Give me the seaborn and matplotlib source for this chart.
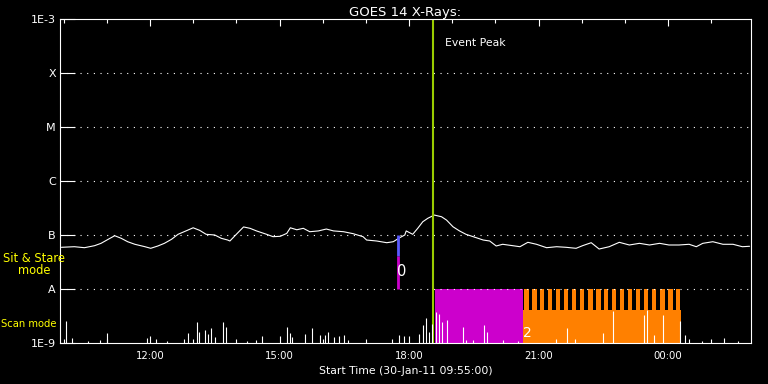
import pandas as pd
import matplotlib
matplotlib.use("Agg")
import matplotlib.pyplot as plt
import matplotlib.dates as mdates
import seaborn as sns

# GOES 14 flux (units of 1e-8 W/m^2)
flux_times = ["09:57", "10:15", "10:29", "10:43", "10:52", "11:02", "11:11", "11:20", "11:29", "11:39",
              "11:53", "12:01", "12:11", "12:20", "12:30", "12:39", "12:50", "13:00", "13:09", "13:18",
              "13:30", "13:39", "13:48", "13:51", "14:00", "14:10", "14:19", "14:28", "14:42", "14:51",
              "15:01", "15:10", "15:15", "15:24", "15:33", "15:42", "15:54", "16:05", "16:15", "16:29",
              "16:42", "16:56", "17:01", "17:15", "17:29", "17:38", "17:47", "17:54", "17:56", "18:05",
              "18:12", "18:19", "18:26", "18:35", "18:45", "18:52", "19:01", "19:10", "19:19", "19:29",
              "19:43", "19:52", "20:01", "20:10", "20:24", "20:34", "20:45", "20:57", "21:11", "21:25",
              "21:38", "21:52", "22:01", "22:13", "22:24", "22:38", "22:52", "23:06", "23:20", "23:34",
              "23:48", "00:01", "00:15", "00:29", "00:39", "00:48", "01:02", "01:16", "01:30", "01:43",
              "01:53"]
flux_vals = [5.92, 6.07, 5.82, 6.34, 7.01, 8.33, 9.7, 8.69, 7.51, 6.73,
             6.07, 5.67, 6.26, 7.01, 8.33, 10.3, 11.9, 13.6, 12.2, 10.3,
             10.0, 8.69, 8.07, 7.74, 10.3, 14.1, 13.3, 11.9, 10.3, 9.31,
             9.46, 10.7, 13.6, 12.5, 13.3, 11.5, 11.9, 12.9, 11.9, 11.5,
             10.6, 9.31, 8.07, 7.74, 7.20, 7.51, 8.92, 10.0, 11.9, 10.3,
             13.3, 17.6, 20.4, 23.4, 21.8, 18.9, 14.2, 11.9, 10.3, 9.31,
             8.07, 7.74, 6.26, 6.73, 6.34, 6.07, 7.32, 6.73, 5.82, 6.07,
             5.92, 5.67, 6.34, 7.20, 5.50, 6.07, 7.32, 6.53, 7.01, 6.53,
             7.01, 6.53, 6.53, 6.73, 6.07, 7.01, 7.51, 6.73, 6.73, 6.07,
             6.18]

# scan mode activity (fraction of the 1E-9..A band)
spike_times = ["10:03", "10:11", "10:34", "10:51", "11:00", "11:56", "12:09", "12:24", "12:47", "12:53",
               "13:05", "13:08", "13:16", "13:21", "13:25", "13:30", "13:41", "13:46", "14:15", "14:27",
               "14:35", "15:10", "15:15", "15:18", "15:36", "15:45", "15:56", "16:03", "16:07", "16:15",
               "16:23", "16:29", "16:35", "17:36", "17:46", "17:53", "18:14", "18:19", "18:23", "18:28",
               "18:32", "18:38", "18:42", "18:46", "18:53", "19:15", "19:19", "19:29", "19:44", "19:48",
               "20:10", "20:31", "21:24", "21:39", "21:50", "22:29", "22:43", "23:26", "23:31", "23:40",
               "23:53", "00:16", "00:24", "00:29", "00:47", "01:18", "01:37"]
spike_heights = [0.41, 0.09, 0.04, 0.06, 0.19, 0.09, 0.07, 0.04, 0.07, 0.19,
                 0.39, 0.20, 0.24, 0.17, 0.28, 0.11, 0.39, 0.30, 0.04, 0.06,
                 0.13, 0.30, 0.19, 0.11, 0.17, 0.28, 0.15, 0.15, 0.20, 0.11,
                 0.13, 0.15, 0.06, 0.07, 0.15, 0.13, 0.17, 0.33, 0.46, 0.20,
                 0.35, 0.57, 0.54, 0.39, 0.43, 0.30, 0.06, 0.06, 0.33, 0.20,
                 0.06, 0.04, 0.07, 0.27, 0.07, 0.19, 0.59, 0.52, 0.61, 0.15,
                 0.52, 0.41, 0.15, 0.07, 0.04, 0.09, 0.04]

peak_time = "18:33"
# observation 0: sit & stare
obs0_time = "17:44"
obs0_levels = [1e-8, 4.1e-8, 1e-7]
# observation 1: scan (magenta)
obs1_span = ["18:36", "20:38"]
# observation 2: scan (orange) with individual rasters
obs2_span = ["20:38", "00:18"]
obs2_base_top = 4.1e-9
obs2_raster_starts = ["20:40", "20:51", "21:02", "21:13", "21:24", "21:35", "21:46", "21:57", "22:09", "22:20",
                      "22:31", "22:42", "22:53", "23:04", "23:15", "23:26", "23:37", "23:49", "00:00", "00:11"]
raster_minutes = 6.0

levels = [1e-9, 1e-8, 1e-7, 1e-6, 1e-5, 1e-4, 1e-3]
level_labels = ["1E-9", "A", "B", "C", "M", "X", "1E-3"]


def to_time(hhmm):
    t = pd.Timestamp("2011-01-30 " + hhmm)
    if t.hour < 9:
        t += pd.Timedelta(days=1)
    return t


sns.set_style("dark", {"axes.facecolor": "black", "figure.facecolor": "black"})
plt.rcParams["font.family"] = ["DejaVu Sans"]

fig = plt.figure(figsize=(7.68, 3.84), dpi=100, facecolor="black")
ax = fig.add_axes([60 / 768, 41 / 384, 691 / 768, 324 / 384])
ax.set_facecolor("black")

green = "#99cc00"
magenta = "#cc00cc"
orange = "#ff8000"
blue = "#5a5aff"
yellow = "#ffff00"

# observation blocks
ax.fill_between([to_time(obs1_span[0]), to_time(obs1_span[1])], 1e-9, 1e-8, color=magenta, lw=0)
ax.fill_between([to_time(obs2_span[0]), to_time(obs2_span[1])], 1e-9, obs2_base_top, color=orange, lw=0)
ax.bar([to_time(s) for s in obs2_raster_starts], 1e-8 - obs2_base_top, bottom=obs2_base_top,
       width=pd.Timedelta(minutes=raster_minutes), align="edge", color=orange, lw=0)

# dotted class levels
for lv in levels[1:-1]:
    ax.axhline(lv, color="white", lw=0.8, ls=(0, (1, 5)))

# flux curve
df = pd.DataFrame({"time": [to_time(t) for t in flux_times],
                   "flux": [v * 1e-8 for v in flux_vals]})
sns.lineplot(data=df, x="time", y="flux", ax=ax, color="white", lw=0.8)

# event peak and sit & stare marker
ax.axvline(to_time(peak_time), color=green, lw=1.5)
ax.vlines(to_time(obs0_time), obs0_levels[1], obs0_levels[2], color=blue, lw=2)
ax.vlines(to_time(obs0_time), obs0_levels[0], obs0_levels[1], color=magenta, lw=2)

ax.annotate("Event Peak", xy=(to_time(peak_time), 1e-3), xytext=(9, -17), textcoords="offset points",
            color="white", fontsize=7.8, ha="left", va="center")
ax.annotate("0", xy=(to_time(obs0_time), 1e-8), xytext=(3.2, 12.5), textcoords="offset points",
            color="white", fontsize=10.5, ha="center", va="center")
ax.annotate("2", xy=(to_time(obs2_span[0]), 1e-9), xytext=(3.6, 7.2), textcoords="offset points",
            color="white", fontsize=10, ha="center", va="center")

ax.set_yscale("log")
ax.set_ylim(1e-9, 1e-3)
ax.set_xlim(to_time("09:55"), to_time("01:55"))
ax.set_yticks(levels)
ax.set_yticklabels(level_labels)
ax.yaxis.set_minor_locator(matplotlib.ticker.NullLocator())
ax.tick_params(axis="y", which="major", direction="in", left=True, right=True, length=10.8,
               width=0.8, colors="white", labelsize=8, pad=3)

ax.xaxis.set_major_locator(mdates.HourLocator(byhour=range(0, 24, 3)))
ax.xaxis.set_minor_locator(mdates.HourLocator())
ax.xaxis.set_major_formatter(mdates.DateFormatter("%H:%M"))
ax.tick_params(axis="x", which="major", direction="in", top=True, bottom=True, length=5,
               width=0.8, colors="white", labelsize=7.3, pad=6)
ax.tick_params(axis="x", which="minor", direction="in", top=True, bottom=True, length=3,
               width=0.8, colors="white")
for sp in ax.spines.values():
    sp.set_color("white")
    sp.set_linewidth(0.8)
    sp.set_visible(True)
ax.grid(False)

ax.set_title("GOES 14 X-Rays:", color="white", fontsize=9.5, pad=2)
ax.set_xlabel("Start Time (30-Jan-11 09:55:00)", color="white", fontsize=7.8, labelpad=3)
ax.set_ylabel("")

# scan mode activity on its own linear scale
ax2 = ax.twinx()
ax2.vlines([to_time(t) for t in spike_times], 0, spike_heights, color="white", lw=0.8)
ax2.set_ylim(0, 6)
ax2.axis("off")

fig.text(34 / 768, 1 - 258 / 384, "Sit & Stare", color=yellow, fontsize=8.3, ha="center", va="center")
fig.text(34 / 768, 1 - 271 / 384, "mode", color=yellow, fontsize=8.3, ha="center", va="center")
fig.text(29 / 768, 1 - 324 / 384, "Scan mode", color=yellow, fontsize=7.2, ha="center", va="center")

fig.savefig("out.png", dpi=100, facecolor="black")
